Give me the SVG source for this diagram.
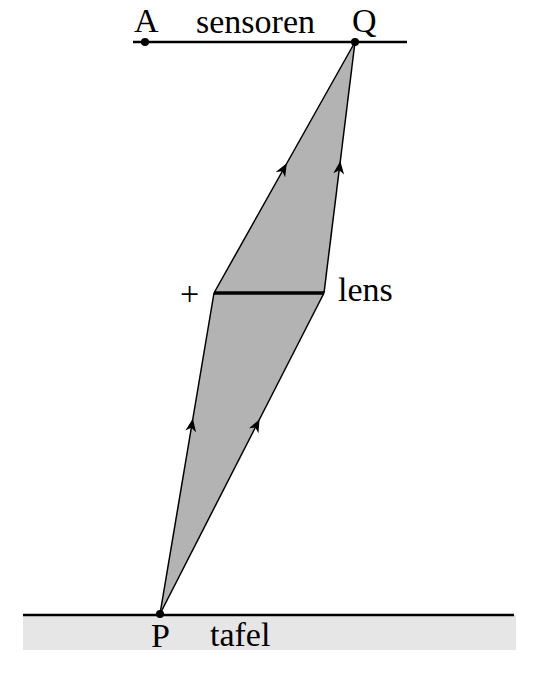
<svg xmlns="http://www.w3.org/2000/svg" width="539" height="681" viewBox="0 0 539 681">
<style>
text{font-family:'Liberation Serif',serif;font-size:34px;fill:#000}
.ray{stroke:#000;stroke-width:1.5;fill:none}
.dot{fill:#000}
</style>
<defs>
<marker id="arr" viewBox="0 0 12 10" refX="6" refY="5" markerWidth="13" markerHeight="11" markerUnits="userSpaceOnUse" orient="auto">
<path d="M0,0 L12,5 L0,10 L3.5,5 Z" fill="#000"/>
</marker>
</defs>
<g id="tafel">
<rect x="23" y="615" width="493" height="35" fill="#e6e6e6"/>
<line x1="23" y1="615" x2="514" y2="615" stroke="#000" stroke-width="2.5"/>
<text x="210" y="646">tafel</text>
</g>
<g id="sensoren">
<line x1="133" y1="42" x2="407" y2="42" stroke="#000" stroke-width="2.5"/>
<text x="196" y="33">sensoren</text>
</g>
<g id="beam">
<polygon points="160,614 214,293 355,42 324,293" fill="#b3b3b3"/>
</g>
<g id="connectors">
<path class="ray" d="M160,614 L191.8,425 L214,293" marker-mid="url(#arr)"/>
<path class="ray" d="M160,614 L256.6,425 L324,293" marker-mid="url(#arr)"/>
<path class="ray" d="M214,293 L283.6,169 L355,42" marker-mid="url(#arr)"/>
<path class="ray" d="M324,293 L339.5,167.5 L355,42" marker-mid="url(#arr)"/>
</g>
<g id="lens">
<line x1="214" y1="293" x2="324" y2="293" stroke="#000" stroke-width="3.5"/>
<text x="180" y="305">+</text>
<text x="338" y="301">lens</text>
</g>
<g id="A">
<circle class="dot" cx="145" cy="42" r="4"/>
<text x="134" y="32">A</text>
</g>
<g id="Q">
<circle class="dot" cx="355" cy="42" r="4"/>
<text x="352" y="32">Q</text>
</g>
<g id="P">
<circle class="dot" cx="160" cy="614" r="4"/>
<text x="151" y="647">P</text>
</g>
</svg>
